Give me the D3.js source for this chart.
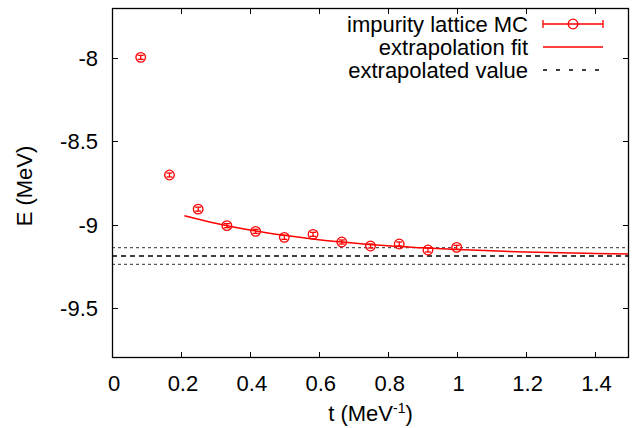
<!DOCTYPE html>
<html>
<head>
<meta charset="utf-8">
<script src="https://cdn.jsdelivr.net/npm/d3@7/dist/d3.min.js"></script>
<style>
  html, body { margin: 0; padding: 0; background: #fff; }
  svg text { font-family: "Liberation Sans", Arial, Helvetica, sans-serif; }
</style>
</head>
<body>
<svg id="chart" width="633" height="428"></svg>
<script>
// ---- data ----
const tValues = [0.0833, 0.1667, 0.25, 0.3333, 0.4167, 0.5, 0.5833, 0.6667, 0.75, 0.8333, 0.9167, 1.0];
const eValues = [-7.996, -8.702, -8.907, -9.006, -9.040, -9.076, -9.058, -9.104, -9.128, -9.116, -9.152, -9.136];
const eErrors = [0.012, 0.012, 0.012, 0.012, 0.012, 0.012, 0.012, 0.012, 0.012, 0.012, 0.012, 0.012];

const fitT = [0.21, 0.3, 0.4, 0.5, 0.6, 0.7, 0.8, 0.9, 1.0, 1.1, 1.2, 1.3, 1.4, 1.5];
const fitE = [-8.946, -8.991, -9.032, -9.064, -9.090, -9.110, -9.127, -9.139, -9.149, -9.157, -9.164, -9.169, -9.173, -9.176];

const extrapValue = -9.188;
const extrapError = 0.050;

const xTicks = [0, 0.2, 0.4, 0.6, 0.8, 1, 1.2, 1.4];
const yTicks = [-8, -8.5, -9, -9.5];
const legendLabels = ["impurity lattice MC", "extrapolation fit", "extrapolated value"];

// ---- layout ----
const svg = d3.select("#chart");
const L = 112, R = 629, T = 8, B = 358;
const x = d3.scaleLinear().domain([0, 1.5]).range([L, R]);
const y = d3.scaleLinear().domain([-9.8, -7.7]).range([B, T]);
const red = "#ff0000";
const fs = 22;

svg.append("clipPath").attr("id", "clip")
  .append("rect").attr("x", L).attr("y", T).attr("width", R - L).attr("height", B - T);

// ticks (inward, mirrored)
const tickLen = 6;
const tg = svg.append("g").attr("stroke", "#000").attr("stroke-width", 1);
xTicks.forEach(v => {
  const px = Math.round(x(v)) + 0.5;
  tg.append("line").attr("x1", px).attr("x2", px).attr("y1", B).attr("y2", B - tickLen);
  tg.append("line").attr("x1", px).attr("x2", px).attr("y1", T).attr("y2", T + tickLen);
});
yTicks.forEach(v => {
  const py = Math.round(y(v)) + 0.5;
  tg.append("line").attr("x1", L).attr("x2", L + tickLen).attr("y1", py).attr("y2", py);
  tg.append("line").attr("x1", R).attr("x2", R - tickLen).attr("y1", py).attr("y2", py);
});

// tick labels
svg.append("g").selectAll("text").data(xTicks).join("text")
  .attr("x", d => x(d) + 2).attr("y", 391)
  .attr("text-anchor", "middle").attr("font-size", fs).attr("fill", "#000")
  .text(d => d3.format("")(d));
svg.append("g").selectAll("text").data(yTicks).join("text")
  .attr("x", 98).attr("y", d => y(d) + 8)
  .attr("text-anchor", "end").attr("font-size", fs).attr("fill", "#000")
  .text(d => String(d));

// axis titles
const xt = svg.append("text").attr("x", (L + R) / 2).attr("y", 421)
  .attr("text-anchor", "middle").attr("font-size", fs).attr("fill", "#000");
xt.append("tspan").text("t (MeV");
xt.append("tspan").attr("dy", -8).attr("font-size", 14).text("-1");
xt.append("tspan").attr("dy", 8).text(")");

svg.append("text").attr("transform", `translate(32,${(T + B) / 2 + 3}) rotate(-90)`)
  .attr("text-anchor", "middle").attr("font-size", fs).attr("fill", "#000")
  .text("E (MeV)");

// plot contents
const pg = svg.append("g").attr("clip-path", "url(#clip)");

// extrapolated value lines
[extrapValue + extrapError, extrapValue - extrapError].forEach(v => {
  pg.append("line").attr("x1", x(0)).attr("x2", x(1.5))
    .attr("y1", y(v)).attr("y2", y(v))
    .attr("stroke", "#555").attr("stroke-width", 1.2).attr("stroke-dasharray", "3,3");
});
pg.append("line").attr("x1", x(0)).attr("x2", x(1.5))
  .attr("y1", y(extrapValue)).attr("y2", y(extrapValue))
  .attr("stroke", "#000").attr("stroke-width", 1.3).attr("stroke-dasharray", "5,4");

// fit curve
const fitData = fitT.map((t, i) => [t, fitE[i]]);
pg.append("path").datum(fitData)
  .attr("d", d3.line().x(d => x(d[0])).y(d => y(d[1])).curve(d3.curveMonotoneX))
  .attr("fill", "none").attr("stroke", red).attr("stroke-width", 1.5);

// data points with error bars
const pts = tValues.map((t, i) => ({t, e: eValues[i], err: eErrors[i]}));
const capW = 3;
const ptG = pg.append("g").attr("stroke", red).attr("fill", "none").attr("stroke-width", 1.3);
pts.forEach(d => {
  const cx = x(d.t), y1 = y(d.e + d.err), y2 = y(d.e - d.err);
  ptG.append("line").attr("x1", cx).attr("x2", cx).attr("y1", y1).attr("y2", y2);
  ptG.append("line").attr("x1", cx - capW).attr("x2", cx + capW).attr("y1", y1).attr("y2", y1);
  ptG.append("line").attr("x1", cx - capW).attr("x2", cx + capW).attr("y1", y2).attr("y2", y2);
  ptG.append("circle").attr("cx", cx).attr("cy", y(d.e)).attr("r", 4.8);
});

// frame
svg.append("rect").attr("x", L + 0.5).attr("y", T + 0.5)
  .attr("width", R - L - 1).attr("height", B - T - 1)
  .attr("fill", "none").attr("stroke", "#000").attr("stroke-width", 1.3);

// legend
const lgX1 = 543, lgX2 = 603, lgTextX = 528;
const lgY = [24, 47, 70];
legendLabels.forEach((lab, i) => {
  svg.append("text").attr("x", lgTextX).attr("y", lgY[i] + 8)
    .attr("text-anchor", "end").attr("font-size", fs).attr("fill", "#000").text(lab);
});
// entry 1: error bar + circle
const lg1 = svg.append("g").attr("stroke", red).attr("fill", "none").attr("stroke-width", 1.3);
lg1.append("line").attr("x1", lgX1).attr("x2", lgX2).attr("y1", lgY[0]).attr("y2", lgY[0]);
lg1.append("line").attr("x1", lgX1).attr("x2", lgX1).attr("y1", lgY[0] - 4).attr("y2", lgY[0] + 4);
lg1.append("line").attr("x1", lgX2).attr("x2", lgX2).attr("y1", lgY[0] - 4).attr("y2", lgY[0] + 4);
lg1.append("circle").attr("cx", (lgX1 + lgX2) / 2).attr("cy", lgY[0]).attr("r", 4.8);
// entry 2
svg.append("line").attr("x1", lgX1).attr("x2", lgX2).attr("y1", lgY[1]).attr("y2", lgY[1])
  .attr("stroke", red).attr("stroke-width", 1.5);
// entry 3
svg.append("line").attr("x1", lgX1).attr("x2", lgX2).attr("y1", lgY[2]).attr("y2", lgY[2])
  .attr("stroke", "#000").attr("stroke-width", 1.3).attr("stroke-dasharray", "4,9");
</script>
</body>
</html>
